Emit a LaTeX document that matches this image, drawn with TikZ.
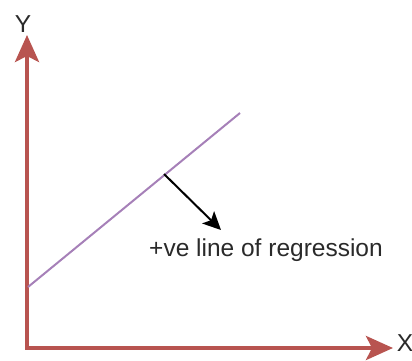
\documentclass[tikz,border=0pt]{standalone}
\usepackage{fontspec}
\setmainfont{Liberation Sans}
\usetikzlibrary{arrows.meta}
\definecolor{axisred}{HTML}{B85450}
\definecolor{regpurple}{HTML}{A680B8}
\definecolor{txtgray}{HTML}{2A2A2A}
\tikzset{
  axisline/.style={draw=axisred,line width=4pt,-{Stealth[length=27pt,width=24pt,inset=6pt]}},
  regline/.style={draw=regpurple,line width=2pt},
  normalarrow/.style={draw=black,line width=2pt,-{Stealth[length=18pt,width=17pt,inset=4pt]}},
  lbl/.style={text=txtgray,font=\fontsize{24.5pt}{28pt}\selectfont,inner sep=0pt}
}
\begin{document}
\begin{tikzpicture}[x=1pt,y=-1pt]
\useasboundingbox (0,0) rectangle (412,360);
\coordinate (O) at (27,348);
\coordinate (ytip) at (27,35);
\coordinate (xtip) at (393,348);
\coordinate (r1) at (28,287);
\coordinate (r2) at (240,113);
\coordinate (foot) at (164,174);
\coordinate (ntip) at (221,230);
\draw[axisline] (O) -- (ytip);
\draw[axisline] (O) -- (xtip);
\draw[draw=axisred,line width=4pt] ([xshift=-2pt]O) -- ([xshift=4pt]O);
\draw[regline] (r1) -- (r2);
\draw[normalarrow] (foot) -- (ntip);
\node[lbl] (ylab) at (23,24) {Y};
\node[lbl] (xlab) at (405,343) {X};
\node[lbl] (reg) at (266,250) {+ve line of regression};
\end{tikzpicture}
\end{document}
